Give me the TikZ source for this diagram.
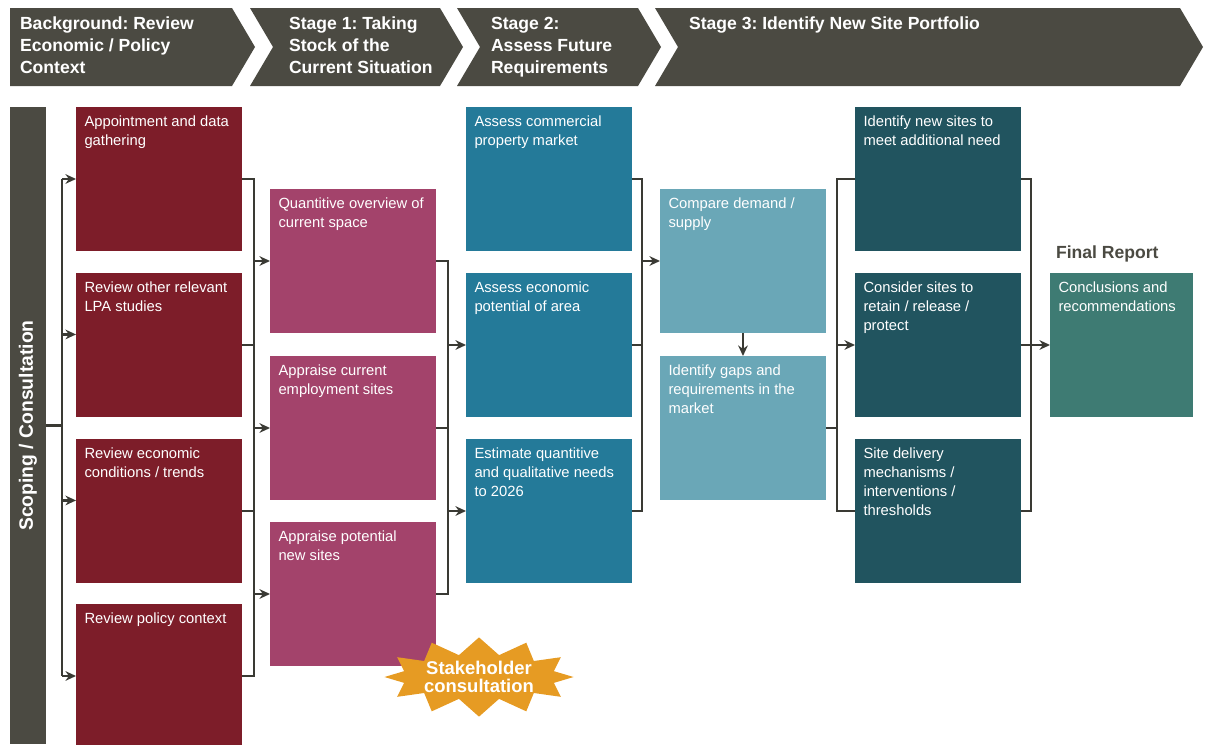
\documentclass[tikz,border=0pt]{standalone}
\usepackage{fontspec}
\setmainfont{Liberation Sans}
\frenchspacing
\usetikzlibrary{shapes.symbols,arrows.meta}

\definecolor{hdrgray}{RGB}{75,74,66}
\definecolor{lnc}{RGB}{58,58,52}
\definecolor{bgred}{RGB}{125,29,41}
\definecolor{stpink}{RGB}{163,67,107}
\definecolor{stblue}{RGB}{36,122,153}
\definecolor{ltteal}{RGB}{106,167,183}
\definecolor{dkteal}{RGB}{33,84,95}
\definecolor{fingreen}{RGB}{62,123,115}
\definecolor{starorange}{RGB}{230,155,35}

\newcommand\boxtext[2][2.98cm]{\parbox[t][2.54cm][t]{#1}{\raggedright #2}}

\begin{document}
\begin{tikzpicture}[x=0.02cm,y=-0.02cm,>={Stealth[length=6pt,width=5.5pt]},line width=1.2pt,color=lnc,
    stepbox/.style={fill=#1,text=white,inner sep=0.17cm,outer sep=0pt,anchor=north west,
      font=\fontsize{8.4}{10.8}\selectfont},
    hdrtext/.style={anchor=north west,inner sep=0pt,align=left,text=white,
      font=\fontsize{10}{12.5}\selectfont\bfseries}]
    \useasboundingbox (0,0) rectangle (1209,744);

    % header chevrons
    \fill[hdrgray] (10,8) -- (232,8) -- (255,47) -- (232,86) -- (10,86) -- cycle;
    \fill[hdrgray] (250,8) -- (440,8) -- (463,47) -- (440,86) -- (250,86) -- (273,47) -- cycle;
    \fill[hdrgray] (457,8) -- (638,8) -- (661,47) -- (638,86) -- (457,86) -- (480,47) -- cycle;
    \fill[hdrgray] (655,8) -- (1180,8) -- (1203,47) -- (1180,86) -- (655,86) -- (678,47) -- cycle;
    \node[hdrtext] (h0) at (19,16) {Background: Review\\Economic / Policy\\Context};
    \node[hdrtext] (h1) at (288,16) {Stage 1: Taking\\Stock of the\\Current Situation};
    \node[hdrtext] (h2) at (490,16) {Stage 2:\\Assess Future\\Requirements};
    \node[hdrtext] (h3) at (688,16) {Stage 3: Identify New Site Portfolio};

    % scoping bar
    \node[fill=hdrgray,text=white,anchor=north west,inner sep=0pt,outer sep=0pt,
      minimum width=0.72cm,minimum height=12.74cm,font=\fontsize{11}{13}\selectfont\bfseries]
      (scope) at (10,107) {\rotatebox{90}{Scoping / Consultation}};

    % background
    \node[stepbox=bgred] (r1) at (76,107) {\boxtext{Appointment and data\\gathering}};
    \node[stepbox=bgred] (r2) at (76,273) {\boxtext{Review other relevant\\LPA studies}};
    \node[stepbox=bgred] (r3) at (76,439) {\boxtext{Review economic\\conditions / trends}};
    \node[stepbox=bgred] (r4) at (76,604) {\boxtext{Review policy context}};

    % stage 1
    \node[stepbox=stpink] (p1) at (270,189) {\boxtext{Quantitive overview of\\current space}};
    \node[stepbox=stpink] (p2) at (270,356) {\boxtext{Appraise current\\employment sites}};
    \node[stepbox=stpink] (p3) at (270,522) {\boxtext{Appraise potential\\new sites}};

    % stage 2
    \node[stepbox=stblue] (b1) at (466,107) {\boxtext{Assess commercial\\property market}};
    \node[stepbox=stblue] (b2) at (466,273) {\boxtext{Assess economic\\potential of area}};
    \node[stepbox=stblue] (b3) at (466,439) {\boxtext{Estimate quantitive\\and qualitative needs\\to 2026}};

    % stage 3
    \node[stepbox=ltteal] (l1) at (660,189) {\boxtext{Compare demand /\\supply}};
    \node[stepbox=ltteal] (l2) at (660,356) {\boxtext{Identify gaps and\\requirements in the\\market}};
    \node[stepbox=dkteal] (d1) at (855,107) {\boxtext{Identify new sites to\\meet additional need}};
    \node[stepbox=dkteal] (d2) at (855,273) {\boxtext{Consider sites to\\retain / release /\\protect}};
    \node[stepbox=dkteal] (d3) at (855,439) {\boxtext{Site delivery\\mechanisms /\\interventions /\\thresholds}};

    % final report
    \node[stepbox=fingreen] (fin) at (1050,273) {\boxtext[2.52cm]{Conclusions and\\recommendations}};
    \node[anchor=base west,inner sep=0pt,text=hdrgray,font=\fontsize{10}{12}\selectfont\bfseries]
      (fintitle) at (1055,258) {Final Report};

    % connectors
    \draw (scope.east) -- ++(16,0) coordinate (s1);
    \coordinate (r2in) at ([yshift=6pt]r2.west);
    \coordinate (r3in) at ([yshift=6pt]r3.west);
    \draw (s1 |- r1.west) -- (s1 |- r4.west);
    \foreach \n in {r1.west,r2in,r3in,r4.west}
        \draw[->] (s1 |- \n) -- (\n);

    \draw (r1.east) -- ++(12,0) coordinate (c1) |- (r4.east);
    \draw (r2.east) -- (c1 |- r2.east);
    \draw (r3.east) -- (c1 |- r3.east);
    \foreach \n in {p1,p2,p3}
        \draw[->] (c1 |- \n.west) -- (\n.west);

    \draw (p1.east) -- ++(12,0) coordinate (c2) |- (p3.east);
    \draw (p2.east) -- (c2 |- p2.east);
    \foreach \n in {b2,b3}
        \draw[->] (c2 |- \n.west) -- (\n.west);

    \draw (b1.east) -- ++(10,0) coordinate (c3) |- (b3.east);
    \draw (b2.east) -- (c3 |- b2.east);
    \draw[->] (c3 |- l1.west) -- (l1.west);
    \draw[->] (l1) -- (l2);

    \draw (l2.east) -- ++(11,0) coordinate (c4);
    \draw (d1.west) -- (c4 |- d1.west) -- (c4 |- d3.west) -- (d3.west);
    \draw[->] (c4 |- d2.west) -- (d2.west);

    \draw (d1.east) -- ++(10,0) coordinate (c5) |- (d3.east);
    \draw (d2.east) -- (c5 |- d2.east);
    \draw[->] (c5 |- fin.west) -- (fin.west);

    % stakeholder burst
    \node[starburst,starburst points=12,starburst point height=0.34cm,random starburst=0,
      fill=starorange,text=white,minimum width=2.9cm,minimum height=1.4cm,inner sep=0pt,
      align=center,font=\fontsize{10.5}{10.5}\selectfont\bfseries]
      (stake) at (479,677) {Stakeholder\\consultation};
\end{tikzpicture}
\end{document}
